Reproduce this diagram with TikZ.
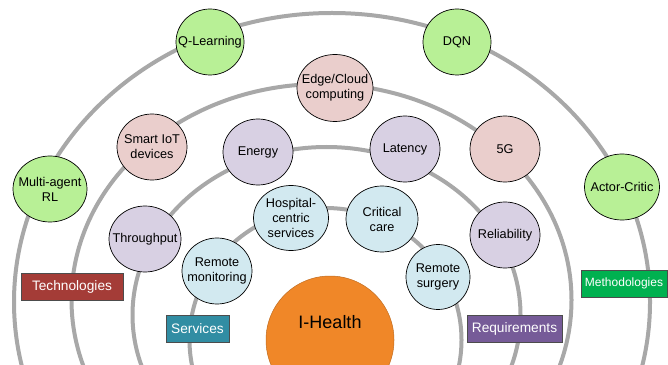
\documentclass[tikz,border=0pt]{standalone}
\usepackage{fontspec}
\setmainfont{Liberation Sans}
\usetikzlibrary{shapes.geometric}

\definecolor{ringgray}{RGB}{168,168,168}
\definecolor{mgreen}{RGB}{184,240,150}
\definecolor{tpink}{RGB}{234,206,204}
\definecolor{rpurple}{RGB}{216,208,227}
\definecolor{sblue}{RGB}{210,233,240}
\definecolor{ihorange}{RGB}{240,135,40}
\definecolor{techred}{RGB}{164,60,55}
\definecolor{servteal}{RGB}{49,141,163}
\definecolor{reqpurple}{RGB}{118,91,152}
\definecolor{methgreen}{RGB}{0,177,80}

\begin{document}
\begin{tikzpicture}[x=1pt,y=1pt,
  ring/.style={draw=ringgray, line width=4pt},
  bub/.style={ellipse, draw=black, line width=0.7pt, minimum width=70pt,
    minimum height=66pt, inner xsep=-14pt, inner ysep=-4pt, align=center,
    font=\fontsize{12.7}{15}\selectfont},
  tag/.style={rectangle, draw=black!70, line width=0.8pt, text=white,
    minimum height=27pt, inner sep=0pt, font=\fontsize{13.7}{16}\selectfont}]

  \useasboundingbox (0,0) rectangle (668,364);

  %% rings
  \begin{scope}
    \clip (0,0) rectangle (668,364);
    \draw[ring] (332,62) ellipse [x radius=318pt, y radius=289pt]; % methodologies
    \draw[ring] (321.5,64) ellipse [x radius=250pt, y radius=216pt]; % technologies
    \draw[ring] (326.5,49) ellipse [x radius=194pt, y radius=168pt]; % requirements
    \draw[ring] (325.5,24) ellipse [x radius=136pt, y radius=132pt]; % services
  \end{scope}

  %% centre
  \node[circle, fill=ihorange, draw=ihorange!80!black, line width=0.5pt,
    minimum size=128pt,
    label={[font=\fontsize{18}{20}\selectfont, yshift=18pt]center:I-Health}]
    (ih) at (330,24) {};

  %% methodologies
  \node[bub, fill=mgreen, minimum width=68pt] (ql) at (210,322) {Q-Learning};
  \node[bub, fill=mgreen, minimum width=68pt] (dqn) at (457,322) {DQN};
  \node[bub, fill=mgreen, minimum width=74pt] (marl) at (50,175) {Multi-agent\\RL};
  \node[bub, fill=mgreen, minimum width=75pt] (ac) at (622,177) {Actor-Critic};

  %% technologies
  \node[bub, fill=tpink, minimum width=76pt, minimum height=67pt] (edge) at (335,276) {Edge/Cloud\\computing};
  \node[bub, fill=tpink] (iot) at (152,217) {Smart IoT\\devices};
  \node[bub, fill=tpink] (fiveg) at (505,215) {5G};

  %% requirements
  \node[bub, fill=rpurple] (energy) at (258,212) {Energy};
  \node[bub, fill=rpurple] (lat) at (405,215) {Latency};
  \node[bub, fill=rpurple, minimum width=72pt] (thr) at (145,125) {Throughput};
  \node[bub, fill=rpurple] (rel) at (505,129) {Reliability};

  %% services
  \node[bub, fill=sblue, minimum width=75pt, minimum height=65pt] (hosp) at (291,146) {Hospital-\\centric\\services};
  \node[bub, fill=sblue, minimum width=72pt] (crit) at (382,145) {Critical\\care};
  \node[bub, fill=sblue] (rmon) at (217,93) {Remote\\monitoring};
  \node[bub, fill=sblue, minimum width=64pt, minimum height=65pt] (rsur) at (438,87) {Remote\\surgery};

  %% ring names
  \node[tag, fill=techred, minimum width=102pt] (techtag) at (72,77.5) {Technologies};
  \node[tag, fill=servteal, minimum width=63pt] (servtag) at (197.5,35.5) {Services};
  \node[tag, fill=reqpurple, minimum width=95pt] (reqtag) at (514.5,35.5) {Requirements};
  \node[tag, fill=methgreen, minimum width=86pt, font=\fontsize{12}{14}\selectfont] (methtag) at (624,80.5) {Methodologies};

\end{tikzpicture}
\end{document}
